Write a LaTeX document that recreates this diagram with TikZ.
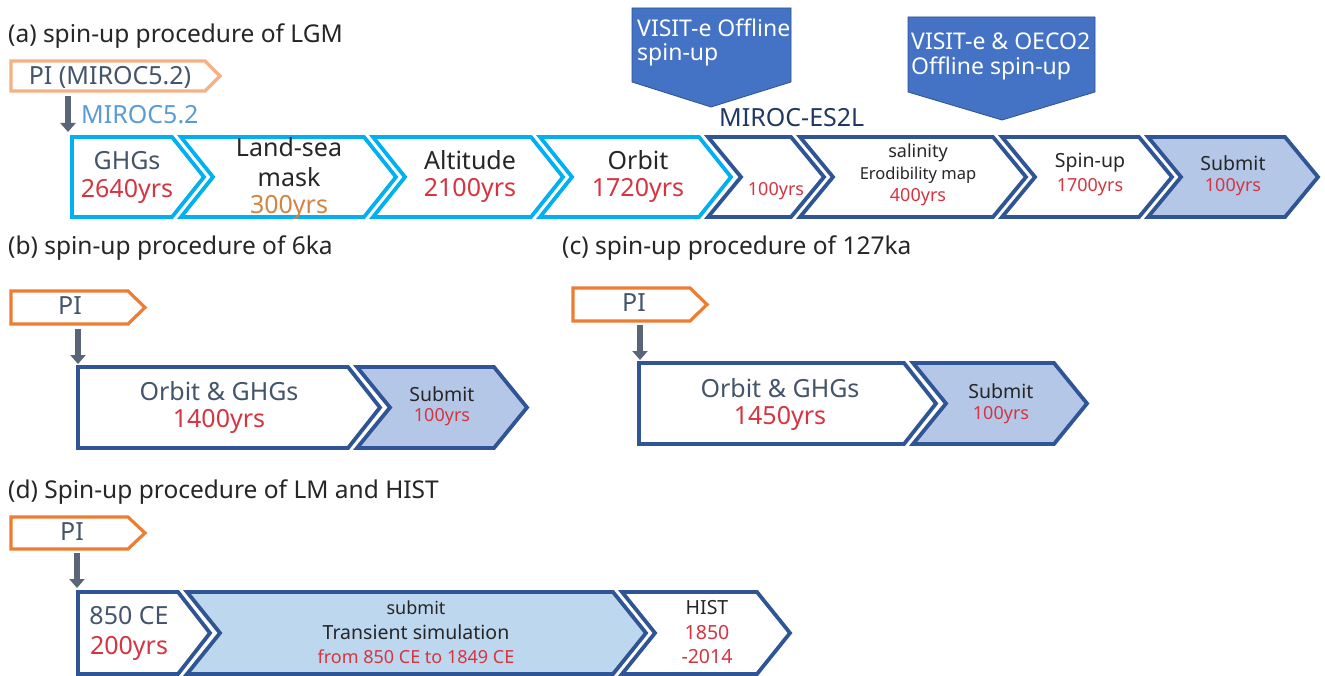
\documentclass[tikz,border=0pt]{standalone}
\usepackage{fontspec}
\setmainfont{Noto Sans}
\usetikzlibrary{arrows.meta}
\definecolor{cyanB}{HTML}{00B0F0}
\definecolor{darkB}{HTML}{2F5597}
\definecolor{subFill}{HTML}{B4C7E7}
\definecolor{lmFill}{HTML}{BDD7EE}
\definecolor{orgA}{HTML}{F4B183}
\definecolor{orgB}{HTML}{ED7D31}
\definecolor{callF}{HTML}{4472C4}
\definecolor{callD}{HTML}{2F528F}
\definecolor{txtG}{HTML}{44546A}
\definecolor{txtK}{HTML}{262626}
\definecolor{txtR}{HTML}{D63440}
\definecolor{txtO}{HTML}{D08545}
\definecolor{txtLB}{HTML}{5B9BD5}
\definecolor{txtDB}{HTML}{203864}
\definecolor{arrG}{HTML}{5A6577}
\newcommand\chev[7]{%
  \pgfmathsetmacro\ymid{(#4+#5)/2}%
  \draw[#1] (#2,#4) -- (#3,#4) -- ({#3+#6},\ymid) -- (#3,#5) -- (#2,#5) -- ({#2+#7},\ymid) -- cycle;}
\tikzset{
  cyanchev/.style={draw=cyanB, line width=3.8pt, line join=miter, fill=white},
  darkchev/.style={draw=darkB, line width=3.8pt, line join=miter, fill=white},
  subchev/.style={draw=darkB, line width=3.8pt, line join=miter, fill=subFill},
  lmchev/.style={draw=darkB, line width=3.8pt, line join=miter, fill=lmFill},
  piA/.style={draw=orgA, line width=3.2pt, line join=miter, fill=white},
  piB/.style={draw=orgB, line width=3.2pt, line join=miter, fill=white},
  callout/.style={fill=callF, draw=callD, line width=0.8pt},
  downarrow/.style={draw=arrG, line width=6pt, -{Triangle[width=15pt,length=9pt]}},
  txL/.style={inner sep=0pt, font=\fontsize{25}{28}\selectfont},
  txM/.style={inner sep=0pt, font=\fontsize{19.5}{22}\selectfont},
  txS/.style={inner sep=0pt, font=\fontsize{18}{21}\selectfont},
  txXS/.style={inner sep=0pt, font=\fontsize{16.5}{19}\selectfont},
  ttl/.style={inner sep=0pt, anchor=west, text=txtK, font=\fontsize{24.5}{28}\selectfont},
  calltx/.style={inner sep=0pt, anchor=west, text=white, font=\fontsize{23}{26}\selectfont},
}
\begin{document}
\begin{tikzpicture}[x=1pt,y=-1pt]
\useasboundingbox (0,0) rectangle (1325,676);
\fill[white] (0,0) rectangle (1325,676);

% ---------------- (a) ----------------
\node[ttl] (ta) at (8,36) {(a) spin-up procedure of LGM};
\chev{piA}{11}{205}{61}{91}{15}{0}
\node[txL, text=txtG] (pia) at (110,77) {PI (MIROC5.2)};
\node[txL, text=txtLB, anchor=west] (mirA) at (81,115) {MIROC5.2};
\coordinate (aS) at (68,96);
\coordinate (aE) at (68,132);
\draw[downarrow] (aS) -- (aE);

% callouts
\draw[callout] (632,8) -- (791,8) -- (791,82) -- (711,107) -- (632,82) -- cycle;
\node[calltx] (c1a) at (637,28) {VISIT-e Offline};
\node[calltx] (c1b) at (637,55) {spin-up};
\draw[callout] (908,17) -- (1095,17) -- (1095,92) -- (1002,120) -- (908,92) -- cycle;
\node[calltx] (c2a) at (911,41) {VISIT-e \& OECO2};
\node[calltx] (c2b) at (911,68) {Offline spin-up};
\node[txL, text=txtDB, anchor=west] (mes) at (719,118) {MIROC-ES2L};

\chev{cyanchev}{72}{172}{137}{217}{32}{0}
\chev{cyanchev}{181}{364}{137}{217}{32}{32}
\chev{cyanchev}{373}{531}{137}{217}{32}{32}
\chev{cyanchev}{540}{699}{137}{217}{32}{32}
\chev{darkchev}{708}{791}{137}{217}{33}{33}
\chev{darkchev}{800}{993}{137}{217}{33}{33}
\chev{darkchev}{1002}{1139}{137}{217}{33}{33}
\chev{subchev}{1148}{1285}{137}{217}{33}{33}

\node[txL, text=txtG] (g1) at (127,161) {GHGs};
\node[txL, text=txtR] (g2) at (127,191) {2640yrs};
\node[txL, text=txtK] (l1) at (289,147) {Land-sea};
\node[txL, text=txtK] (l2) at (289,177) {mask};
\node[txL, text=txtO] (l3) at (289,207) {300yrs};
\node[txL, text=txtK] (al1) at (470,160) {Altitude};
\node[txL, text=txtR] (al2) at (470,190) {2100yrs};
\node[txL, text=txtK] (o1) at (638,160) {Orbit};
\node[txL, text=txtR] (o2) at (638,190) {1720yrs};
\node[txS, text=txtR] (h1) at (776,191) {100yrs};
\node[txS, text=txtK] (s1) at (918,153) {salinity};
\node[txXS, text=txtK] (s2) at (918,175) {Erodibility map};
\node[txS, text=txtR] (s3) at (918,197) {400yrs};
\node[txM, text=txtK] (sp1) at (1090,163) {Spin-up};
\node[txS, text=txtR] (sp2) at (1090,187) {1700yrs};
\node[txM, text=txtK] (sb1) at (1233,163) {Submit};
\node[txS, text=txtR] (sb2) at (1233,187) {100yrs};

% ---------------- (b) ----------------
\node[ttl] (tb) at (8,248) {(b) spin-up procedure of 6ka};
\chev{piB}{11}{128}{291}{324}{17}{0}
\node[txL, text=txtG] (pib) at (70,306) {PI};
\coordinate (bS) at (78,329);
\coordinate (bE) at (78,364);
\draw[downarrow] (bS) -- (bE);
\chev{darkchev}{78}{348}{367}{448}{32}{0}
\chev{subchev}{357}{494}{367}{448}{33}{33}
\node[txL, text=txtG] (b1) at (219,391) {Orbit \& GHGs};
\node[txL, text=txtR] (b2) at (219,421) {1400yrs};
\node[txM, text=txtK] (b3) at (442,394) {Submit};
\node[txS, text=txtR] (b4) at (442,417) {100yrs};

% ---------------- (c) ----------------
\node[ttl] (tc) at (562,248) {(c) spin-up procedure of 127ka};
\chev{piB}{573}{690}{288}{321}{17}{0}
\node[txL, text=txtG] (pic) at (634,303) {PI};
\coordinate (cS) at (640,325);
\coordinate (cE) at (640,360);
\draw[downarrow] (cS) -- (cE);
\chev{darkchev}{639}{904}{363}{444}{32}{0}
\chev{subchev}{913}{1054}{363}{444}{33}{33}
\node[txL, text=txtG] (c1) at (780,388) {Orbit \& GHGs};
\node[txL, text=txtR] (c2) at (780,418) {1450yrs};
\node[txM, text=txtK] (c3) at (1001,391) {Submit};
\node[txS, text=txtR] (c4) at (1001,415) {100yrs};

% ---------------- (d) ----------------
\node[ttl] (td) at (8,492) {(d) Spin-up procedure of LM and HIST};
\chev{piB}{11}{128}{517}{549}{17}{0}
\node[txL, text=txtG] (pid) at (72,532) {PI};
\coordinate (dS) at (77,553);
\coordinate (dE) at (77,588);
\draw[downarrow] (dS) -- (dE);
\chev{darkchev}{78}{178}{592}{674}{32}{0}
\chev{lmchev}{187}{613}{592}{674}{33}{33}
\chev{darkchev}{622}{757}{592}{674}{33}{33}
\node[txL, text=txtG] (d1) at (129,616) {850 CE};
\node[txL, text=txtR] (d2) at (129,648) {200yrs};
\node[txS, text=txtK] (d3) at (416,608) {submit};
\node[txM, text=txtK] (d4) at (416,632) {Transient simulation};
\node[txS, text=txtR] (d5) at (416,657) {from 850 CE to 1849 CE};
\node[txM, text=txtK] (d6) at (707,608) {HIST};
\node[txM, text=txtR] (d7) at (707,633) {1850};
\node[txM, text=txtR] (d8) at (707,657) {-2014};
\end{tikzpicture}
\end{document}
